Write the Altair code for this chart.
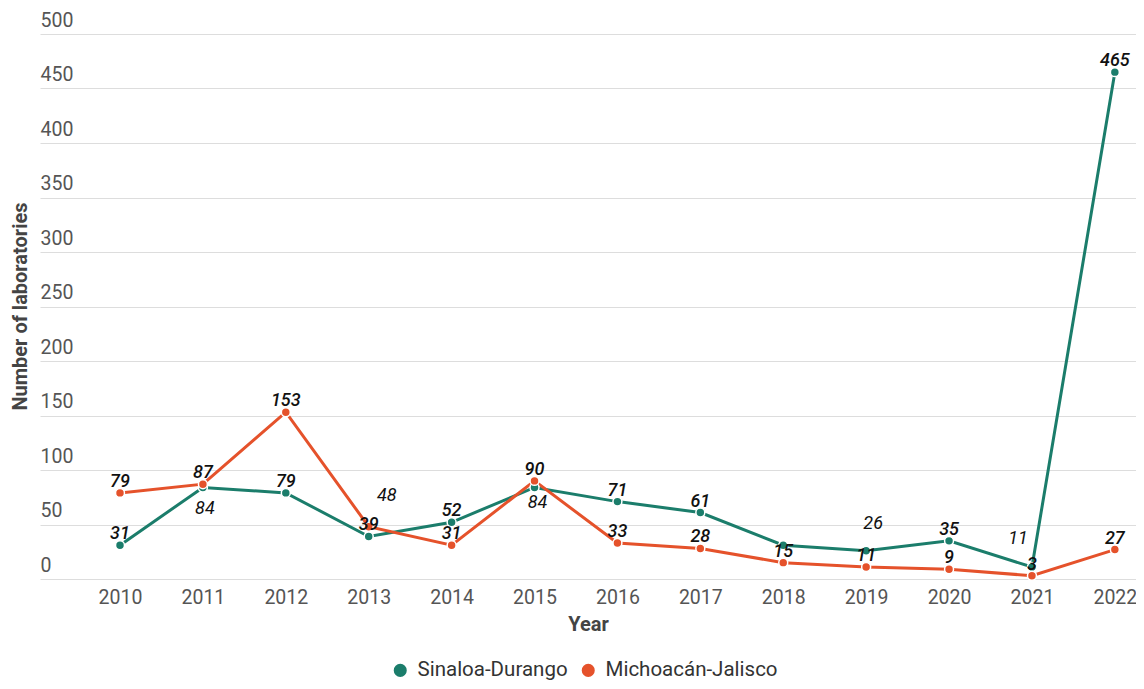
import altair as alt
import pandas as pd

years = list(range(2010, 2023))
sinaloa = [31, 84, 79, 39, 52, 84, 71, 61, 31, 26, 35, 11, 465]
michoacan = [79, 87, 153, 48, 31, 90, 33, 28, 15, 11, 9, 3, 27]
series_names = ["Sinaloa-Durango", "Michoacán-Jalisco"]
colors = ["#1b7d6b", "#e5522b"]
y_ticks = [0, 50, 100, 150, 200, 250, 300, 350, 400, 450, 500]

# labels that are displaced from their points: (series, year, dx, dy)
label_tweaks = [
    ("Sinaloa-Durango", 2011, 2, 22),
    ("Sinaloa-Durango", 2015, 3, 16),
    ("Michoacán-Jalisco", 2013, 18, -31),
    ("Sinaloa-Durango", 2019, 7, -27),
    ("Sinaloa-Durango", 2021, -14, -28),
]
hidden_labels = [("Sinaloa-Durango", 2018)]

rows = []
for yr, a, b in zip(years, sinaloa, michoacan):
    rows.append({"Year": yr, "Series": series_names[0], "Value": a})
    rows.append({"Year": yr, "Series": series_names[1], "Value": b})
df = pd.DataFrame(rows)

FONT = "Roboto"

x_enc = alt.X(
    "Year:Q",
    scale=alt.Scale(domain=[2009.035, 2022.255], nice=False, zero=False),
    axis=alt.Axis(
        values=years, format="d", grid=False, domain=False, ticks=False, tickSize=0,
        labelFontSize=19.5, labelColor="#555555", labelPadding=9, labelFont=FONT,
        title="Year", titleFontSize=20, titleFontWeight="bold", titleColor="#444444",
        titleFont=FONT, titlePadding=8,
    ),
)
y_enc = alt.Y(
    "Value:Q",
    scale=alt.Scale(domain=[0, 500], nice=False),
    axis=alt.Axis(
        values=y_ticks, grid=True, gridColor="#dddddd", gridWidth=1,
        domain=False, ticks=False, tickSize=0,
        labelAlign="left", labelBaseline="bottom", labelPadding=0, labelOffset=-4,
        labelFontSize=19.5, labelColor="#555555", labelFont=FONT,
        title="Number of laboratories", titleFontSize=20, titleFontWeight="bold",
        titleColor="#444444", titleFont=FONT, titleAngle=-90, titleX=-20, titleY=272,
        titleAlign="center", titleBaseline="middle",
    ),
)

base = alt.Chart(df)

lines = []
for name, col in zip(series_names, colors):
    lines.append(
        base.transform_filter(alt.datum.Series == name)
        .mark_line(strokeWidth=3, color=col)
        .encode(x=x_enc, y=y_enc)
    )

points = base.mark_point(filled=True, size=80, stroke="white", strokeWidth=1.5, opacity=1).encode(
    x=x_enc,
    y=y_enc,
    color=alt.Color(
        "Series:N",
        scale=alt.Scale(domain=series_names, range=colors),
        legend=alt.Legend(
            title=None, orient="none", direction="horizontal", legendX=350, legendY=626,
            symbolType="circle", symbolSize=170, symbolStrokeWidth=0,
            labelFontSize=20.5, labelColor="#333333", labelFont=FONT, labelLimit=400,
            columnPadding=10, labelOffset=7, padding=0,
        ),
    ),
    order=alt.Order("Series:N", sort="descending"),
)

special_expr = " || ".join(
    f"(datum.Series == '{s}' && datum.Year == {y})" for s, y, _, _ in label_tweaks
)
hidden_expr = " || ".join(
    f"(datum.Series == '{s}' && datum.Year == {y})" for s, y in hidden_labels
)

labels_default = (
    base.transform_filter(f"!({special_expr}) && !({hidden_expr})")
    .mark_text(font=FONT, fontSize=18, fontStyle="italic", fontWeight=500,
               color="#111111", baseline="middle", dy=-11)
    .encode(x=x_enc, y=y_enc, text="Value:Q")
)

special_layers = []
for s, yr, dx, dy in label_tweaks:
    special_layers.append(
        base.transform_filter(f"datum.Series == '{s}' && datum.Year == {yr}")
        .mark_text(font=FONT, fontSize=18, fontStyle="italic", fontWeight=400,
                   color="#111111", baseline="middle", dx=dx, dy=dy)
        .encode(x=x_enc, y=y_enc, text="Value:Q")
    )

chart = alt.layer(*lines, points, labels_default, *special_layers).properties(
    width=1096,
    height=545,
    autosize=alt.AutoSizeParams(type="none"),
    padding={"left": 32, "top": 26, "right": 0, "bottom": 102},
).configure_view(stroke=None)

chart.save("out.html", embed_options={"renderer": "svg", "actions": False})
